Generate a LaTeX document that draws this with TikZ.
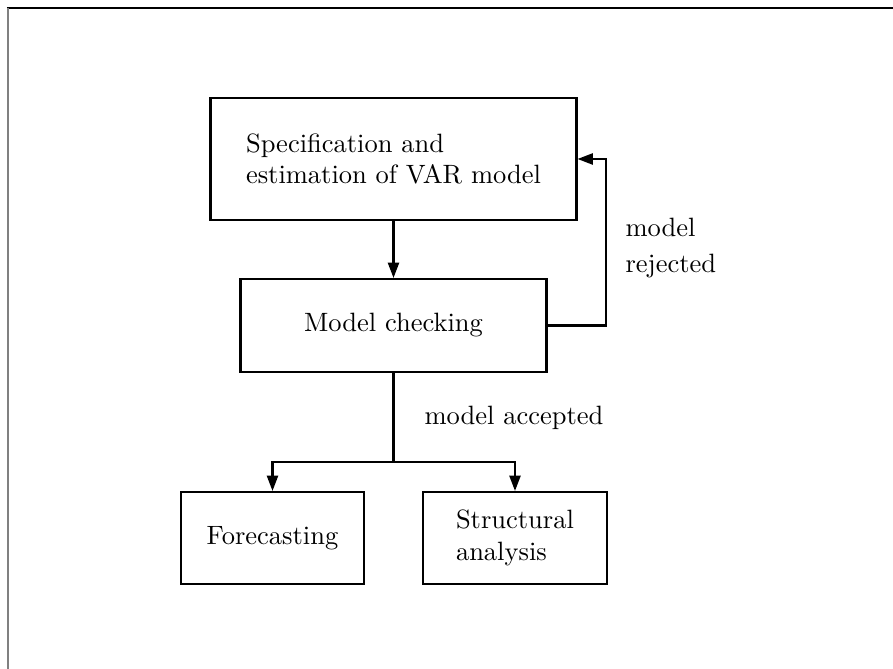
\documentclass[tikz,border=0pt]{standalone}
\usepackage{amsmath}
\usepackage{tikz}
\usetikzlibrary{arrows.meta}

\begin{document}
\begin{tikzpicture}[x=0.3774pt, y=-0.3774pt, >={Triangle[length=5.8pt,width=4.2pt]}]
    \tikzset{box/.style={draw, thick, align=left, inner sep=0pt}}
    \useasboundingbox (0, 0) rectangle (893, 669);

    % Frame lines
    \draw[thick] (7, 8) -- (893, 8);
    \draw[thick, gray] (8, 8) -- (8, 669);

    % Boxes of the procedure
    \node[box, minimum width=138.1pt, minimum height=46pt] (spec) at (393.5, 159) {Specification and\\estimation of VAR model};
    \node[box, minimum width=115.5pt, minimum height=35.1pt] (check) at (393.5, 325.5) {Model checking};
    \node[box, minimum width=69.1pt, minimum height=34.7pt] (fore) at (272.5, 538) {Forecasting};
    \node[box, minimum width=69.4pt, minimum height=34.7pt] (struct) at (515, 538) {Structural\\analysis};

    % Arrow from specification to checking
    \draw[->, thick] (spec.south) -- (check.north);

    % Feedback loop when the model is rejected
    \coordinate (back) at (606, 0);
    \draw[->, thick] (check.east) -| (back |- spec.east) -- (spec.east);
    \node[anchor=west, align=left, inner sep=0pt] (rej) at (625, 248) {model\\[1.5pt]rejected};

    % Branching when the model is accepted
    \coordinate (split) at (393.5, 462);
    \draw[thick] (check.south) -- (split);
    \draw[->, thick] (split) -| (fore.north);
    \draw[->, thick] (split) -| (struct.north);
    \node[anchor=west, inner sep=0pt] (acc) at (424, 418) {model accepted};

\end{tikzpicture}
\end{document}
